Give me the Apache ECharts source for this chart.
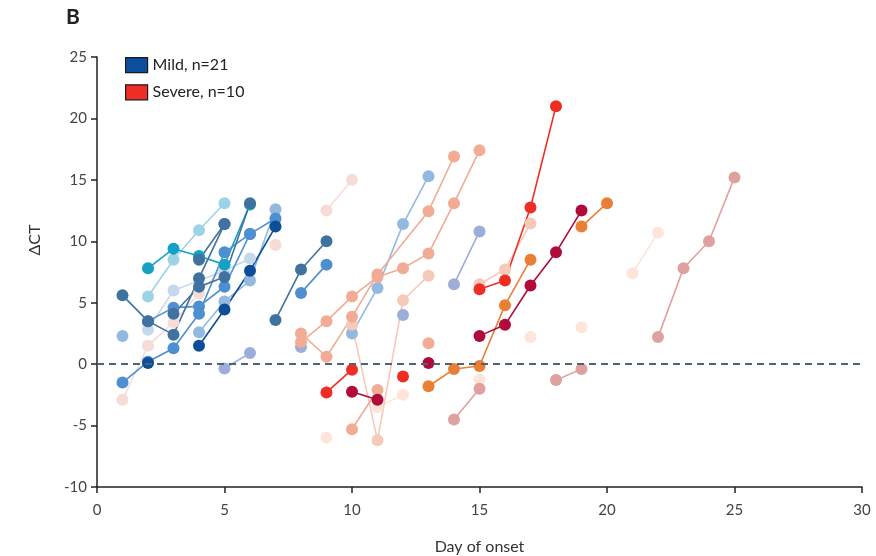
<!DOCTYPE html>
<html>
<head>
<meta charset="utf-8">
<script src="https://cdn.jsdelivr.net/npm/echarts@6/dist/echarts.min.js"></script>
<style>
  html, body { margin: 0; padding: 0; background: #fff; }
  #chart { width: 876px; height: 556px; }
</style>
</head>
<body>
<div id="chart"></div>
<script>
// axis ticks
var xTicks = [0, 5, 10, 15, 20, 25, 30];
var yTicks = [-10, -5, 0, 5, 10, 15, 20, 25];

// mild patients, [day of onset, delta CT]
var m01 = [[1, 5.6], [2, 3.5], [3, 2.4], [4, 7.0], [5, 11.4]];
var m02 = [[3, 4.1], [4, 6.3], [5, 7.1], [6, 13.1]];
var m03 = [[2, 5.5], [3, 8.5], [4, 10.9], [5, 13.1]];
var m04 = [[2, 7.8], [3, 9.4], [4, 8.8], [5, 8.1], [6, 13.0]];
var m05 = [[2, 2.8], [3, 6.0], [5, 7.6], [6, 8.6]];
var m06 = [[4, 1.5], [5, 4.45], [6, 7.6], [7, 11.2]];
var m07 = [[1, -1.5], [2, 0.2], [3, 1.3], [4, 4.1], [5, 9.1], [6, 10.6], [7, 11.85]];
var m08 = [[2, 3.5], [3, 4.6], [4, 4.7], [5, 6.3], [6, 10.6]];
var m09 = [[1, -2.9], [2, 1.5], [3, 3.4], [4, 5.75], [5, 8.0]];
var m10 = [[2, 0.1]];
var m11 = [[4, 8.5], [5, 11.4]];
var m12 = [[4, 2.6], [5, 5.1], [6, 6.8], [7, 12.6]];
var m13 = [[1, 2.3]];
var m14 = [[5, -0.35], [6, 0.9]];
var m15 = [[7, 9.7]];
var m16 = [[7, 3.6], [8, 7.7], [9, 10.0]];
var m17 = [[8, 5.8], [9, 8.1]];
var m18 = [[8, 1.4]];
var m19 = [[10, 2.5], [11, 6.2], [12, 11.4], [13, 15.3]];
var m20 = [[12, 4.0]];
var m21 = [[14, 6.5], [15, 10.8]];

// severe patients
var s01 = [[8, 1.8], [9, 3.5], [10, 5.5], [11, 7.1], [12, 7.8], [13, 9.0], [14, 13.1], [15, 17.4]];
var s02 = [[8, 2.5], [9, 0.6], [10, 3.85], [11, 7.3], [13, 12.45], [14, 16.9]];
var s03 = [[10, 3.2], [11, -6.2], [12, 5.2], [13, 7.2]];
var s04 = [[10, -5.3], [11, -2.1]];
var s05 = [[11, -3.5], [12, -2.5]];
var s06 = [[9, -6.0]];
var s07 = [[9, 12.5], [10, 15.0]];
var s08 = [[9, -2.3], [10, -0.45]];
var s09 = [[12, -1.0]];
var s10 = [[15, 6.1], [16, 6.8], [17, 12.75], [18, 21.0]];
var s11 = [[10, -2.25], [11, -2.9]];
var s12 = [[13, 0.1]];
var s13 = [[15, 2.3], [16, 3.2], [17, 6.4], [18, 9.1], [19, 12.5]];
var s14 = [[13, -1.8], [14, -0.4], [15, -0.15], [16, 4.8], [17, 8.5]];
var s15 = [[19, 11.2], [20, 13.1]];
var s16 = [[13, 1.7]];
var s17 = [[15, 6.5], [16, 7.7], [17, 11.45]];
var s18 = [[14, -4.5], [15, -2.0]];
var s19 = [[18, -1.3], [19, -0.4]];
var s20 = [[22, 2.2], [23, 7.8], [24, 10.0], [25, 15.2]];
var s21 = [[15, -1.25]];
var s22 = [[17, 2.2]];
var s23 = [[19, 3.0]];
var s24 = [[21, 7.4], [22, 10.7]];

var legendNames = ['Mild, n=21', 'Severe, n=10'];

var C = {
  steel: '#40729f', navy: '#0c4e98', medium: '#4d8fd0', light: '#94b9e0',
  paleBlue: '#c6d9ec', sky: '#9dd3e6', teal: '#14a1c6', lavender: '#9dadd9',
  palePink: '#f6dcd7', salmon: '#f2ab94', paleSalmon: '#f6c9bb', peach: '#fde5da',
  red: '#ee2e24', crimson: '#b00b3a', orange: '#e97f35', rose: '#dfa19d'
};

var lines = [
  [m13, C.light], [m09, C.palePink], [m05, C.paleBlue], [m03, C.sky], [m12, C.light],
  [m14, C.lavender], [m15, C.palePink], [m04, C.teal], [m08, C.medium], [m07, C.medium],
  [m02, C.steel], [m11, C.steel], [m01, C.steel], [m10, C.navy], [m06, C.navy],
  [m16, C.steel], [m17, C.medium], [m18, C.lavender], [m19, C.light], [m20, C.lavender],
  [m21, C.lavender],
  [s06, C.peach], [s05, C.peach], [s21, C.peach], [s22, C.peach], [s23, C.peach], [s24, C.peach],
  [s07, C.palePink], [s03, C.paleSalmon], [s17, C.paleSalmon], [s02, C.salmon], [s01, C.salmon],
  [s04, C.salmon], [s16, C.salmon], [s18, C.rose], [s19, C.rose], [s20, C.rose],
  [s14, C.orange], [s15, C.orange], [s08, C.red], [s09, C.red], [s10, C.red],
  [s11, C.crimson], [s12, C.crimson], [s13, C.crimson]
];

var series = lines.map(function (l) {
  return {
    type: 'line',
    data: l[0],
    symbol: 'circle',
    symbolSize: 12,
    showAllSymbol: true,
    itemStyle: { color: l[1] },
    lineStyle: { color: l[1], width: 1.6 },
    emphasis: { disabled: true },
    animation: false,
    z: 3
  };
});

// zero reference line
series.push({
  type: 'line',
  data: [],
  markLine: {
    silent: true,
    symbol: 'none',
    label: { show: false },
    lineStyle: { color: '#4d6673', type: [7, 5], width: 2 },
    data: [{ yAxis: 0 }]
  },
  z: 2
});

// legend entries
series.push({ name: legendNames[0], type: 'scatter', data: [], itemStyle: { color: '#0b4f9d', opacity: 1 } });
series.push({ name: legendNames[1], type: 'scatter', data: [], itemStyle: { color: '#ee2e24', opacity: 1 } });

var font = 'Lato, "Open Sans", sans-serif';
var chart = echarts.init(document.getElementById('chart'));
chart.setOption({
  animation: false,
  grid: { left: 97, right: 14, top: 57, bottom: 69, outerBoundsMode: 'none' },
  legend: {
    orient: 'vertical',
    left: 120,
    top: 52,
    itemWidth: 22,
    itemHeight: 15,
    itemGap: 11,
    textStyle: { fontFamily: font, fontSize: 16, color: '#222' },
    data: legendNames.map(function (n, i) {
      return {
        name: n,
        icon: 'rect',
        itemStyle: { color: i ? '#ee2e24' : '#0b4f9d', opacity: 1, borderColor: '#1a1a1a', borderWidth: 1.2 }
      };
    })
  },
  xAxis: {
    type: 'value',
    min: xTicks[0],
    max: xTicks[xTicks.length - 1],
    interval: 5,
    name: 'Day of onset',
    nameLocation: 'middle',
    nameGap: 52,
    nameTextStyle: { fontFamily: font, fontSize: 16, color: '#333' },
    axisLine: { onZero: false, lineStyle: { color: '#222', width: 1.5 } },
    axisTick: { length: 6, lineStyle: { color: '#222', width: 1.5 } },
    axisLabel: { fontFamily: font, fontSize: 15, color: '#444', margin: 16 },
    splitLine: { show: false }
  },
  yAxis: {
    type: 'value',
    min: yTicks[0],
    max: yTicks[yTicks.length - 1],
    interval: 5,
    axisLine: { show: true, onZero: false, lineStyle: { color: '#222', width: 1.5 } },
    axisTick: { show: true, length: 6, lineStyle: { color: '#222', width: 1.5 } },
    axisLabel: { fontFamily: font, fontSize: 15, color: '#444', margin: 10 },
    splitLine: { show: false }
  },
  graphic: [
    {
      type: 'text', left: 66, top: 7,
      style: { text: 'B', fontFamily: font, fontSize: 21, fontWeight: 'bold', fill: '#222' }
    },
    {
      type: 'text', x: 35, y: 240, rotation: Math.PI / 2,
      style: { text: 'ΔCT', fontFamily: font, fontSize: 16, fill: '#333', align: 'center', verticalAlign: 'middle' }
    }
  ],
  series: series
});
</script>
</body>
</html>
